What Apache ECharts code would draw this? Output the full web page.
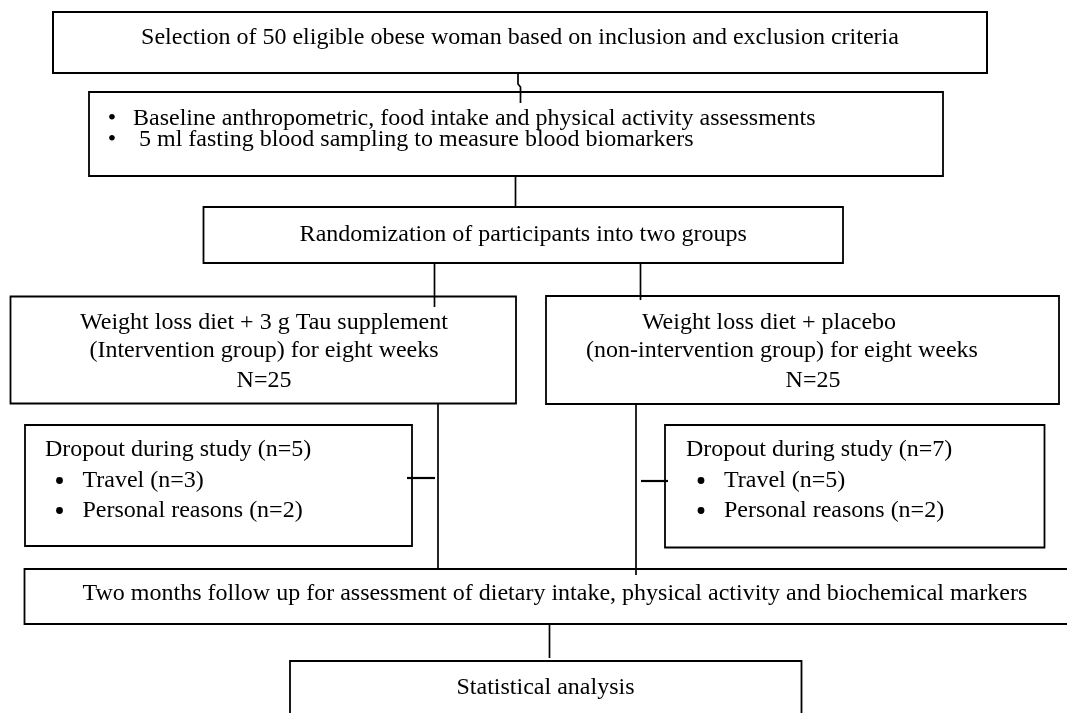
<!DOCTYPE html>
<html>
<head>
<meta charset="utf-8">
<script src="https://cdn.jsdelivr.net/npm/echarts@6/dist/echarts.min.js"></script>
<style>
html,body{margin:0;padding:0;background:#fff;}
#chart{width:1067px;height:713px;}
</style>
</head>
<body>
<div id="chart"></div>
<script>
// ---- content (text of each flowchart step) ----
const selectionLines = ["Selection of 50 eligible obese woman based on inclusion and exclusion criteria"];
const baselineItems = ["Baseline anthropometric, food intake and physical activity assessments", " 5 ml fasting blood sampling to measure blood biomarkers"];
const randomizationLines = ["Randomization of participants into two groups"];
const interventionLines = ["Weight loss diet + 3 g Tau supplement", "(Intervention group) for eight weeks", "N=25"];
const placeboLines = ["Weight loss diet + placebo", "(non-intervention group) for eight weeks", "N=25"];
const dropoutInterventionTitle = "Dropout during study (n=5)";
const dropoutInterventionItems = ["Travel (n=3)", "Personal reasons (n=2)"];
const dropoutPlaceboTitle = "Dropout during study (n=7)";
const dropoutPlaceboItems = ["Travel (n=5)", "Personal reasons (n=2)"];
const followUpLines = ["Two months follow up for assessment of dietary intake, physical activity and biochemical markers"];
const analysisLines = ["Statistical analysis"];

// ---- layout (pixel geometry of the diagram) ----
const FONT = '24px "Liberation Serif", "Times New Roman", serif';
const STROKE = '#000';
const layout = {
  boxes: {
    selection:   {x: 53,    y: 12,    w: 934,   h: 61},
    baseline:    {x: 89,    y: 92,    w: 854,   h: 84},
    random:      {x: 203.5, y: 207,   w: 639.5, h: 56},
    intervention:{x: 10.5,  y: 296.5, w: 505.5, h: 107},
    placebo:     {x: 546,   y: 296,   w: 513,   h: 108},
    dropL:       {x: 25,    y: 425,   w: 387,   h: 121},
    dropR:       {x: 665,   y: 425,   w: 379.5, h: 122.5},
    follow:      {x: 24.5,  y: 569,   w: 1060,  h: 55},
    analysis:    {x: 290,   y: 661,   w: 511.5, h: 80}
  },
  connectors: [
    [[518, 73], [518, 84], [520.5, 87], [520.5, 103]],
    [[515.5, 176], [515.5, 207]],
    [[434.5, 263], [434.5, 307]],
    [[640.5, 263], [640.5, 300]],
    [[438, 403.5], [438, 569]],
    [[407, 478], [435, 478]],
    [[636, 404], [636, 575]],
    [[641, 481], [668, 481]],
    [[549.5, 624], [549.5, 658]]
  ]
};

const elements = [];

function rect(b, lw) {
  elements.push({
    type: 'rect',
    shape: {x: b.x, y: b.y, width: b.w, height: b.h},
    style: {fill: '#fff', stroke: STROKE, lineWidth: lw || 1.8}
  });
}
function text(str, x, y, align) {
  elements.push({
    type: 'text',
    style: {
      text: str, x: x, y: y, fill: '#000', font: FONT,
      align: align || 'center', verticalAlign: 'middle',
      textAlign: align || 'center', textVerticalAlign: 'middle'
    }
  });
}
function dot(x, y, r) {
  elements.push({type: 'circle', shape: {cx: x, cy: y, r: r}, style: {fill: '#000'}});
}

const B = layout.boxes;
Object.keys(B).forEach(k => rect(B[k], k === 'selection' ? 2 : 1.8));

layout.connectors.forEach((pts, i) => {
  elements.push({
    type: 'polyline',
    shape: {points: pts},
    style: {stroke: STROKE, lineWidth: (i === 5 || i === 7) ? 2.2 : 1.7, fill: null}
  });
});

// Selection
text(selectionLines[0], B.selection.x + B.selection.w / 2, 38);
// Baseline (bulleted)
const baselineY = [119, 139.5];
baselineItems.forEach((s, i) => {
  text('\u2022', 112, baselineY[i]);
  text(s, 133, baselineY[i], 'left');
});
// Randomization
text(randomizationLines[0], B.random.x + B.random.w / 2, 235);
// Intervention group
const groupY = [322.5, 351, 380.5];
interventionLines.forEach((s, i) => text(s, 264, groupY[i]));
// Placebo group
const placeboX = [769, 782, 813];
placeboLines.forEach((s, i) => text(s, placeboX[i], groupY[i]));
// Dropouts
const dropY = [450, 480.5, 510.5];
text(dropoutInterventionTitle, 45, dropY[0], 'left');
dropoutInterventionItems.forEach((s, i) => {
  dot(59.5, dropY[i + 1], 3.4);
  text(s, 82.5, dropY[i + 1], 'left');
});
text(dropoutPlaceboTitle, 686, dropY[0], 'left');
dropoutPlaceboItems.forEach((s, i) => {
  dot(701, dropY[i + 1], 3.4);
  text(s, 724, dropY[i + 1], 'left');
});
// Follow-up
text(followUpLines[0], 82.5, 594, 'left');
// Analysis
text(analysisLines[0], 545.5, 688);

const chart = echarts.init(document.getElementById('chart'), null, {renderer: 'canvas'});
chart.setOption({
  backgroundColor: '#fff',
  animation: false,
  graphic: {elements: elements}
});
</script>
</body>
</html>
